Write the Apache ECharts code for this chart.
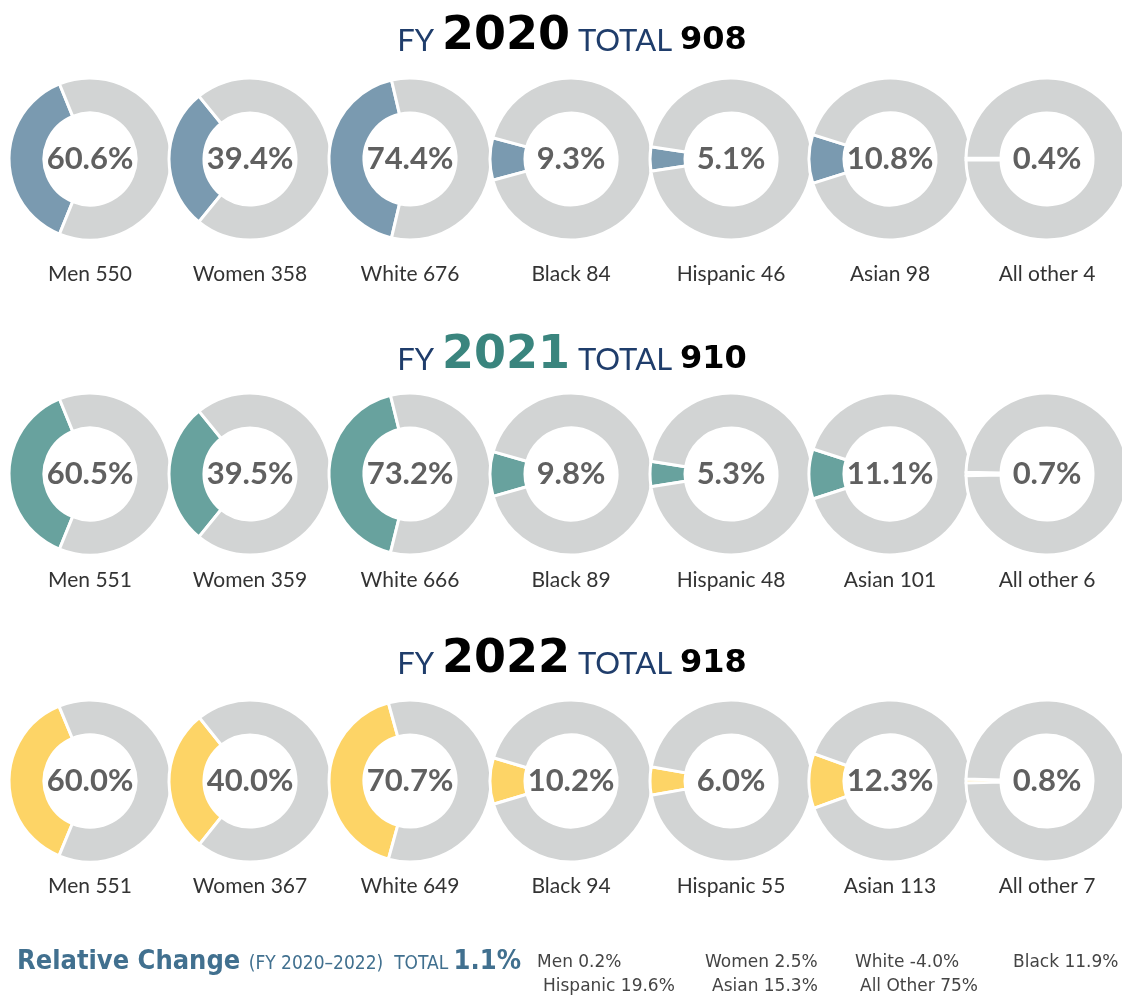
<!DOCTYPE html>
<html>
<head>
<meta charset="utf-8">
<script src="https://cdn.jsdelivr.net/npm/echarts@6/dist/echarts.min.js"></script>
<style>
  html, body { margin: 0; padding: 0; background: #fff; }
  #chart { width: 1122px; height: 998px; }
</style>
</head>
<body>
<div id="chart"></div>
<script>
// data
const categories = ['Men', 'Women', 'White', 'Black', 'Hispanic', 'Asian', 'All other']
const years = ['2020', '2021', '2022']
const totals = [908, 910, 918]
const counts2020 = [550, 358, 676, 84, 46, 98, 4]
const counts2021 = [551, 359, 666, 89, 48, 101, 6]
const counts2022 = [551, 367, 649, 94, 55, 113, 7]
const pct2020 = ['60.6%', '39.4%', '74.4%', '9.3%', '5.1%', '10.8%', '0.4%']
const pct2021 = ['60.5%', '39.5%', '73.2%', '9.8%', '5.3%', '11.1%', '0.7%']
const pct2022 = ['60.0%', '40.0%', '70.7%', '10.2%', '6.0%', '12.3%', '0.8%']
const changeLabels = ['Men', 'Women', 'White', 'Black', 'Hispanic', 'Asian', 'All Other']
const changeValues = ['0.2%', '2.5%', '-4.0%', '11.9%', '19.6%', '15.3%', '75%']
const totalChange = '1.1%'

const counts = [counts2020, counts2021, counts2022]
const pcts = [pct2020, pct2021, pct2022]

// layout
const yearColors = ['#7a9ab0', '#68a29e', '#fdd466']
const yearTextColors = ['#000', '#3a857e', '#000']
const ringGrey = '#d2d4d4'
const navy = '#1f3d6b'
const steel = '#41708f'
const narrow = "'DejaVu Sans Condensed', 'Liberation Sans Narrow', Roboto, sans-serif"
const xCenters = [90, 250, 410, 571, 731, 890, 1047]
const rowY = [159, 474, 781]
const titleY = [37, 356, 660]
const labelY = [274, 580, 886]
const changePos = [[537, 963], [705, 963], [855, 963], [1013, 963], [543, 987], [712, 987], [860, 987]]

const series = []
years.forEach((yr, r) => {
  categories.forEach((cat, i) => {
    // the reference draws each ring as [count, year total]
    const share = counts[r][i] / (counts[r][i] + totals[r])
    series.push({
      type: 'pie',
      center: [xCenters[i], rowY[r]],
      radius: [46, 81],
      startAngle: 180 + share * 180,
      clockwise: true,
      silent: true,
      animation: false,
      avoidLabelOverlap: false,
      itemStyle: { borderColor: '#fff', borderWidth: 3 },
      label: { show: false },
      labelLine: { show: false },
      data: [
        {
          value: counts[r][i],
          itemStyle: { color: yearColors[r] },
          label: {
            show: true,
            position: 'center',
            formatter: pcts[r][i],
            fontFamily: 'Lato',
            fontWeight: 'bold',
            fontSize: 31,
            color: '#606060',
          },
        },
        { value: totals[r], itemStyle: { color: ringGrey } },
      ],
    })
  })
})

const graphic = []
years.forEach((yr, r) => {
  graphic.push({
    type: 'text',
    x: 572,
    y: titleY[r],
    style: {
      text: '{a|FY }{b|' + yr + '}{a| TOTAL }{c|' + totals[r] + '}',
      align: 'center',
      verticalAlign: 'middle',
      rich: {
        a: { fontFamily: 'Lato', fontSize: 31, fill: navy, verticalAlign: 'bottom', padding: [0, 0, 4, 0] },
        b: { fontFamily: 'DejaVu Sans', fontWeight: 'bold', fontSize: 46, fill: yearTextColors[r], verticalAlign: 'bottom' },
        c: { fontFamily: 'DejaVu Sans', fontWeight: 'bold', fontSize: 32, fill: '#000', verticalAlign: 'bottom', padding: [0, 0, 3, 0] },
      },
    },
  })
  categories.forEach((cat, i) => {
    graphic.push({
      type: 'text',
      x: xCenters[i],
      y: labelY[r],
      style: {
        text: cat + ' ' + counts[r][i],
        align: 'center',
        verticalAlign: 'middle',
        fontFamily: 'Lato',
        fontSize: 21,
        fill: '#333',
      },
    })
  })
})

graphic.push({
  type: 'text',
  x: 17,
  y: 962,
  style: {
    text: '{h|Relative Change }{s|(FY 2020\u20132022)  TOTAL }{t|' + totalChange + '}',
    verticalAlign: 'middle',
    rich: {
      h: { fontFamily: narrow, fontWeight: 'bold', fontSize: 27, fill: steel, verticalAlign: 'bottom' },
      s: { fontFamily: narrow, fontSize: 19, fill: steel, verticalAlign: 'bottom', padding: [0, 0, 2, 0] },
      t: { fontFamily: narrow, fontWeight: 'bold', fontSize: 27, fill: steel, verticalAlign: 'bottom' },
    },
  },
})
changeLabels.forEach((lab, i) => {
  graphic.push({
    type: 'text',
    x: changePos[i][0],
    y: changePos[i][1],
    style: {
      text: lab + ' ' + changeValues[i],
      verticalAlign: 'middle',
      fontFamily: 'DejaVu Sans',
      fontSize: 17,
      fill: '#444',
    },
  })
})

const chart = echarts.init(document.getElementById('chart'))
chart.setOption({
  backgroundColor: '#fff',
  animation: false,
  series,
  graphic,
})
</script>
</body>
</html>
